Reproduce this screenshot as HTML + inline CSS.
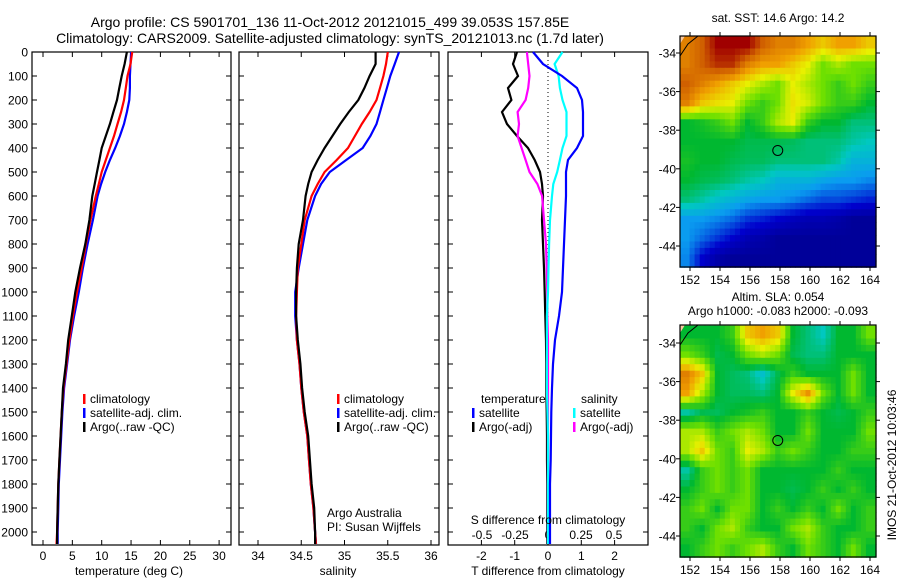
<!DOCTYPE html>
<html><head><meta charset="utf-8"><style>
body{margin:0;background:#fff}
svg{display:block;font-family:"Liberation Sans",sans-serif}
text{fill:#000}
</style></head><body>
<svg id="fig" width="900" height="580" viewBox="0 0 900 580">
<text x="330" y="27" font-size="14" text-anchor="middle">Argo profile: CS 5901701_136 11-Oct-2012 20121015_499 39.053S 157.85E</text>
<text x="330" y="43" font-size="14" text-anchor="middle">Climatology: CARS2009. Satellite-adjusted climatology: synTS_20121013.nc (1.7d later)</text>
<g id="g1"></g>
<g id="g2"></g>
<g id="g3"></g>
<g id="m1"></g>
<g id="m2"></g>
<text x="778" y="22" font-size="12" text-anchor="middle">sat. SST: 14.6 Argo: 14.2</text>
<text x="778" y="301" font-size="12" text-anchor="middle">Altim. SLA: 0.054</text>
<text x="778" y="315" font-size="12" text-anchor="middle">Argo h1000: -0.083 h2000: -0.093</text>
<text transform="translate(896,465) rotate(-90)" font-size="12" text-anchor="middle">IMOS 21-Oct-2012 10:03:46</text>
</svg>
<script>
const depths=[0,50,100,150,200,250,300,350,400,450,500,550,600,700,800,900,1000,1100,1200,1300,1400,1500,1600,1700,1800,1900,2000,2050];
const tempArgo=[14.3,13.9,13.4,13.0,12.6,12.0,11.4,10.7,10.0,9.6,9.2,8.8,8.4,7.9,7.2,6.3,5.5,4.9,4.3,3.9,3.4,3.2,3.0,2.8,2.6,2.5,2.4,2.4];
const tempClim=[15.2,14.9,14.4,14.1,13.8,13.3,12.7,12.1,11.4,10.7,10.0,9.5,9.0,8.1,7.3,6.6,5.8,5.1,4.5,4.0,3.5,3.2,3.0,2.8,2.6,2.5,2.4,2.3];
const tempSat=[15.0,14.9,14.8,14.8,14.7,14.3,13.8,13.1,12.3,11.4,10.6,9.9,9.3,8.5,7.6,6.8,6.1,5.3,4.6,4.1,3.6,3.3,3.1,2.9,2.7,2.6,2.5,2.5];
const salArgo=[35.36,35.36,35.29,35.23,35.16,35.05,34.95,34.86,34.77,34.69,34.62,34.58,34.55,34.52,34.47,34.45,34.44,34.44,34.46,34.49,34.51,34.54,34.58,34.60,34.62,34.65,34.66,34.66];
const salClim=[35.50,35.48,35.45,35.41,35.37,35.29,35.20,35.12,35.04,34.91,34.77,34.69,34.62,34.54,34.50,34.46,34.45,34.44,34.45,34.48,34.50,34.53,34.57,34.59,34.61,34.64,34.66,34.67];
const salSat=[35.63,35.58,35.53,35.49,35.45,35.41,35.37,35.30,35.21,35.02,34.83,34.73,34.66,34.57,34.52,34.47,34.43,34.43,34.45,34.48,34.50,34.53,34.57,34.59,34.61,34.64,34.66,34.67];
const dTArgo=[-0.93,-1.05,-0.9,-1.2,-1.1,-1.38,-1.23,-0.93,-0.6,-0.4,-0.24,-0.18,-0.15,-0.18,-0.15,-0.12,-0.1,-0.08,-0.06,-0.05,-0.05,-0.04,-0.03,-0.03,-0.02,-0.02,-0.02,-0.02];
const dTSat=[-0.45,-0.15,0.42,0.87,1.02,1.05,1.05,1.05,0.87,0.6,0.54,0.54,0.54,0.51,0.48,0.45,0.42,0.33,0.21,0.15,0.12,0.1,0.09,0.08,0.06,0.06,0.06,0.06];
const dSArgo=[-0.16,-0.15,-0.14,-0.15,-0.17,-0.23,-0.22,-0.23,-0.2,-0.17,-0.14,-0.08,-0.045,-0.03,-0.015,-0.01,-0.005,-0.005,0,0,0,0,0,0,0,0,0,0];
const dSSat=[0.11,0.05,0.08,0.09,0.11,0.14,0.14,0.14,0.11,0.09,0.07,0.04,0.03,0.015,0.008,0.004,0,-0.008,-0.008,-0.008,-0.008,-0.004,0,0,0,0,0,0];
const depthTicks=[0,100,200,300,400,500,600,700,800,900,1000,1100,1200,1300,1400,1500,1600,1700,1800,1900,2000];
const tempTicks=[0,5,10,15,20,25,30];
const salTicks=[34,34.5,35,35.5,36];
const salTickLabels=["34","34.5","35","35.5","36"];
const dTTicks=[-2,-1,0,1,2];
const dSTicks=[-0.5,-0.25,0,0.25,0.5];
const dSTickLabels=["-0.5","-0.25","0","0.25","0.5"];
const lonTicks=[152,154,156,158,160,162,164];
const latTicks=[-34,-36,-38,-40,-42,-44];
const argoLon=157.85, argoLat=-39.05;
const sstGrid=[
[0.85,0.9,1,1,1,0.9,0.85,0.85,0.8,0.75,0.8,0.8,0.75],
[0.85,0.9,0.95,0.95,0.85,0.8,0.8,0.75,0.7,0.6,0.65,0.6,0.6],
[0.9,0.85,0.8,0.75,0.7,0.65,0.6,0.7,0.65,0.6,0.55,0.6,0.55],
[0.85,0.75,0.72,0.7,0.6,0.55,0.6,0.72,0.68,0.6,0.55,0.55,0.5],
[0.5,0.52,0.55,0.6,0.5,0.55,0.65,0.7,0.55,0.5,0.5,0.45,0.45],
[0.5,0.5,0.5,0.5,0.48,0.48,0.48,0.47,0.45,0.45,0.45,0.42,0.4],
[0.52,0.5,0.5,0.48,0.47,0.47,0.45,0.45,0.45,0.45,0.42,0.35,0.35],
[0.5,0.48,0.47,0.45,0.42,0.4,0.35,0.35,0.35,0.32,0.3,0.3,0.28],
[0.45,0.42,0.38,0.35,0.32,0.3,0.3,0.28,0.25,0.22,0.22,0.2,0.18],
[0.3,0.3,0.28,0.25,0.2,0.18,0.15,0.12,0.1,0.1,0.08,0.05,0.05],
[0.3,0.25,0.2,0.15,0.1,0.08,0.05,0.05,0.05,0.05,0.05,0.05,0.05],
[0.28,0.15,0.08,0.05,0.05,0.05,0.05,0.05,0.05,0.05,0.05,0.05,0.05]];
const slaGrid=[
[0.5,0.5,0.5,0.55,0.75,0.8,0.75,0.5,0.45,0.4,0.5,0.5,0.6],
[0.6,0.55,0.48,0.5,0.6,0.65,0.6,0.48,0.45,0.45,0.5,0.5,0.5],
[0.85,0.75,0.5,0.47,0.45,0.38,0.48,0.55,0.5,0.5,0.5,0.6,0.5],
[0.8,0.65,0.5,0.47,0.47,0.45,0.5,0.7,0.82,0.6,0.5,0.6,0.5],
[0.42,0.48,0.47,0.5,0.52,0.55,0.5,0.5,0.55,0.5,0.48,0.5,0.55],
[0.65,0.65,0.55,0.6,0.65,0.6,0.5,0.5,0.6,0.5,0.5,0.5,0.6],
[0.65,0.75,0.6,0.55,0.7,0.65,0.55,0.6,0.55,0.5,0.5,0.55,0.55],
[0.42,0.55,0.6,0.55,0.6,0.5,0.5,0.5,0.5,0.5,0.55,0.5,0.5],
[0.5,0.55,0.6,0.55,0.6,0.5,0.5,0.48,0.5,0.55,0.5,0.55,0.5],
[0.55,0.6,0.5,0.6,0.6,0.5,0.55,0.5,0.55,0.5,0.6,0.5,0.55],
[0.55,0.5,0.6,0.65,0.55,0.5,0.5,0.6,0.65,0.55,0.5,0.5,0.55],
[0.5,0.55,0.6,0.55,0.6,0.65,0.55,0.5,0.6,0.55,0.5,0.6,0.5]];

const NS='http://www.w3.org/2000/svg';
function mk(parent,tag,attrs){const e=document.createElementNS(NS,tag);for(const k in attrs)e.setAttribute(k,attrs[k]);parent.appendChild(e);return e;}
const yD=d=>52+d*0.24;
function panel(g,x0,x1,xs,ticks,labels,tickY,depthLabels){
  const r=mk(g,'rect',{x:x0,y:52,width:x1-x0,height:493,fill:'#fff',stroke:'#000','stroke-width':1.2});
  
  
  depthTicks.forEach(d=>{const y=yD(d);
    mk(g,'line',{x1:x0,x2:x0+5,y1:y,y2:y,stroke:'#000'});mk(g,'line',{x1:x1-5,x2:x1,y1:y,y2:y,stroke:'#000'});
    if(depthLabels){const t=mk(g,'text',{x:x0-4,y:y+4.5,'font-size':12,'text-anchor':'end'});t.textContent=d;
      
      }});
  ticks.forEach((v,i)=>{const x=xs(v);
    mk(g,'line',{x1:x,x2:x,y1:52,y2:57,stroke:'#000'});mk(g,'line',{x1:x,x2:x,y1:540,y2:545,stroke:'#000'});
    const t=mk(g,'text',{x:x,y:tickY,'font-size':12,'text-anchor':'middle'});t.textContent=labels?labels[i]:v;
    
    });
}
function line(g,vals,xs,color,w,name){
  const pts=vals.map((v,i)=>xs(v).toFixed(1)+','+yD(depths[i]).toFixed(1)).join(' ');
  const p=mk(g,'polyline',{points:pts,fill:'none',stroke:color,'stroke-width':w});
  
  
}
function legend(g,x,y,color,label){
  mk(g,'rect',{x:x,y:y-9,width:2.5,height:10,fill:color});
  const t=mk(g,'text',{x:x+7,y:y,'font-size':12});t.textContent=label;
  
  
}
function txt(g,x,y,s,anchor,name){const t=mk(g,'text',{x:x,y:y,'font-size':12,'text-anchor':anchor||'start'});t.textContent=s;
  
  }

const g1=document.getElementById('g1');
const xT=v=>43+v*5.87;
panel(g1,32,231,xT,tempTicks,null,560,true);
line(g1,tempSat,xT,'#0000ff',2.2,'temp-satellite-line');
line(g1,tempClim,xT,'#ff0000',2.2,'temp-climatology-line');
line(g1,tempArgo,xT,'#000',2.2,'temp-argo-line');
legend(g1,83,403,'#ff0000','climatology');
legend(g1,83,417,'#0000ff','satellite-adj. clim.');
legend(g1,83,431,'#000','Argo(..raw -QC)');
txt(g1,129,575,'temperature (deg C)','middle','x-axis-title');

const g2=document.getElementById('g2');
const xS=v=>258+(v-34)*86.5;
panel(g2,239,439,xS,salTicks,salTickLabels,560,false);
line(g2,salSat,xS,'#0000ff',2.2,'sal-satellite-line');
line(g2,salClim,xS,'#ff0000',2.2,'sal-climatology-line');
line(g2,salArgo,xS,'#000',2.2,'sal-argo-line');
legend(g2,337,403,'#ff0000','climatology');
legend(g2,337,417,'#0000ff','satellite-adj. clim.');
legend(g2,337,431,'#000','Argo(..raw -QC)');
txt(g2,327,517,'Argo Australia','start','credit-line-1');
txt(g2,327,531,'PI: Susan Wijffels','start','credit-line-2');
txt(g2,338,575,'salinity','middle','x-axis-title');

const g3=document.getElementById('g3');
const xDT=v=>548+v*33.3, xDS=v=>548+v*132;
panel(g3,448,648,xDT,dTTicks,null,560,false);
dSTicks.forEach((v,i)=>txt(g3,xDS(v),539,dSTickLabels[i],'middle','s-tick-label'));
mk(g3,'line',{x1:548,x2:548,y1:52,y2:545,stroke:'#000','stroke-dasharray':'1,3'});
line(g3,dTArgo,xDT,'#000',2.2,'dT-argo-line');
line(g3,dSArgo,xDS,'#ff00ff',2.2,'dS-argo-line');
line(g3,dSSat,xDS,'#00ffff',2.2,'dS-satellite-line');
line(g3,dTSat,xDT,'#0000ff',2.2,'dT-satellite-line');
txt(g3,481,403,'temperature','start','legend-title-temperature');
legend(g3,472,417,'#0000ff','satellite');
legend(g3,472,431,'#000','Argo(-adj)');
txt(g3,581,403,'salinity','start','legend-title-salinity');
legend(g3,573,417,'#00ffff','satellite');
legend(g3,573,431,'#ff00ff','Argo(-adj)');
txt(g3,548,524,'S difference from climatology','middle','s-axis-title');
txt(g3,548,575,'T difference from climatology','middle','t-axis-title');

const stops=[[0,[0,0,128]],[0.15,[0,0,204]],[0.3,[10,156,240]],[0.4,[0,200,192]],[0.5,[0,184,48]],[0.6,[110,224,0]],[0.7,[232,240,0]],[0.8,[240,160,0]],[0.9,[208,96,0]],[1,[160,0,0]]];
function cmap(v){for(let i=1;i<stops.length;i++){if(v<=stops[i][0]){const a=stops[i-1],b=stops[i],t=(v-a[0])/(b[0]-a[0]);
  return 'rgb('+a[1].map((c,k)=>Math.round(c+(b[1][k]-c)*t)).join(',')+')';}}return 'rgb(160,0,0)';}
function sample(grid,fr,fc){
  const R=grid.length,C=grid[0].length;
  fr=Math.max(0,Math.min(R-1,fr));fc=Math.max(0,Math.min(C-1,fc));
  const r0=Math.floor(fr),c0=Math.floor(fc),r1=Math.min(R-1,r0+1),c1=Math.min(C-1,c0+1),tr=fr-r0,tc=fc-c0;
  return grid[r0][c0]*(1-tr)*(1-tc)+grid[r0][c1]*(1-tr)*tc+grid[r1][c0]*tr*(1-tc)+grid[r1][c1]*tr*tc;
}
function map(id,grid,top,bottom,lat34,lat44,labelY){
  const g=document.getElementById(id);
  const x0=680,x1=876;
  const xL=lon=>690+(lon-152)*15;
  const yL=lat=>lat34+(-34-lat)*(lat44-lat34)/10;
  const rows=grid.length, cols=grid[0].length, S=3;
  const lon0=151.3, lon1=164.4, latT=-33.1, latB=-45.1;
  const cw=(lon1-lon0)/(cols*S), ch=(latT-latB)/(rows*S);
  for(let r=0;r<rows*S;r++)for(let c=0;c<cols*S;c++){
    const v=sample(grid,(r+0.5)/S-0.5,(c+0.5)/S-0.5);
    const xa=xL(lon0+c*cw), xb=xL(lon0+(c+1)*cw), ya=yL(latT-r*ch), yb=yL(latT-(r+1)*ch);
    const e=mk(g,'rect',{x:xa.toFixed(1),y:ya.toFixed(1),width:(xb-xa+0.6).toFixed(1),height:(yb-ya+0.6).toFixed(1),fill:cmap(v)});
    
    
  }
  mk(g,'polygon',{points:`${x0},${top} ${x0+5},${top} ${x0},${top+8}`,fill:'#f8c8a0'});
  mk(g,'polyline',{points:`${x0},${top+20} ${x0+8},${top+8} ${x0+18},${top}`,fill:'none',stroke:'#000','stroke-width':1});
  const f=mk(g,'rect',{x:x0,y:top,width:x1-x0,height:bottom-top,fill:'none',stroke:'#000','stroke-width':1.2});
  
  
  lonTicks.forEach(l=>{const x=xL(l);mk(g,'line',{x1:x,x2:x,y1:top-4,y2:top,stroke:'#000'});mk(g,'line',{x1:x,x2:x,y1:bottom,y2:bottom+4,stroke:'#000'});
    txt(g,x,labelY,String(l),'middle','lon-tick-label');});
  latTicks.forEach(l=>{const y=yL(l);mk(g,'line',{x1:x0-4,x2:x0,y1:y,y2:y,stroke:'#000'});mk(g,'line',{x1:x1,x2:x1+4,y1:y,y2:y,stroke:'#000'});
    txt(g,x0-4,y+4.5,String(l),'end','lat-tick-label');});
  const c=mk(g,'circle',{cx:xL(argoLon),cy:yL(argoLat),r:5,fill:'none',stroke:'#000','stroke-width':1});
  
  
}
map('m1',sstGrid,36,267,53,246,284);
map('m2',slaGrid,325,557,343,536,574);
</script>
</body></html>
